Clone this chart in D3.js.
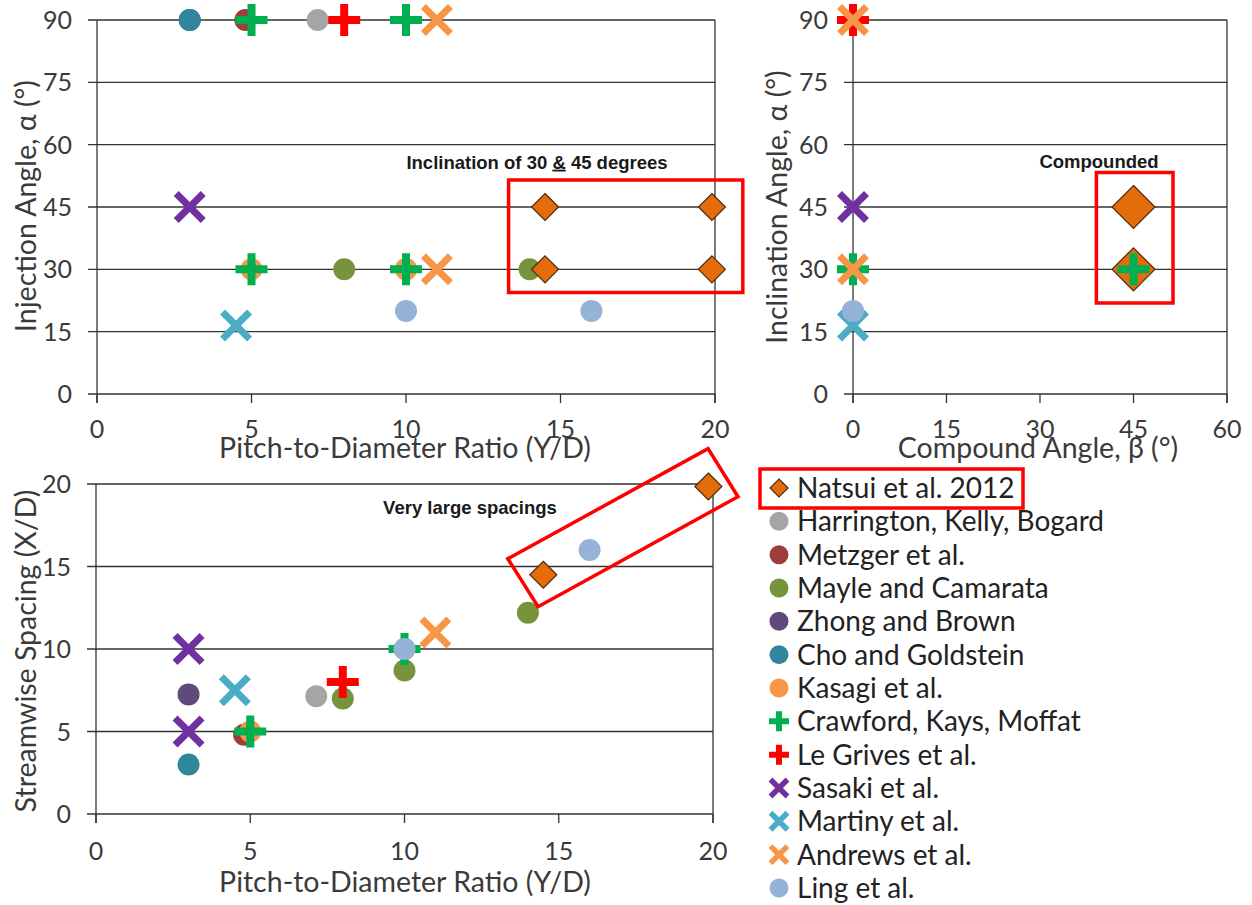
<!DOCTYPE html>
<html>
<head>
<meta charset="utf-8">
<script src="https://cdn.jsdelivr.net/npm/d3@7"></script>
<style>
  body { margin: 0; background: #fff; }
</style>
</head>
<body>
<svg id="chart" width="1252" height="905"></svg>
<script>
//
// Data
//

// series, in legend order
var seriesNames = ['Natsui et al. 2012', 'Harrington, Kelly, Bogard', 'Metzger et al.', 'Mayle and Camarata',
  'Zhong and Brown', 'Cho and Goldstein', 'Kasagi et al.', 'Crawford, Kays, Moffat', 'Le Grives et al.',
  'Sasaki et al.', 'Martiny et al.', 'Andrews et al.', 'Ling et al.']
var seriesColors = ['#E46C0A', '#A5A5A5', '#9C3F3A', '#77933C', '#604A7B', '#31859C', '#F79646',
  '#00B050', '#FF0000', '#7030A0', '#4BACC6', '#F79646', '#95B3D7']
var seriesShapes = ['diamond', 'circle', 'circle', 'circle', 'circle', 'circle', 'circle',
  'plus', 'plus', 'times', 'times', 'times', 'circle']
// order the series are painted in (later on top)
var drawOrder = [1, 2, 3, 0, 4, 5, 6, 7, 8, 9, 10, 11, 12]

// pitch-to-diameter ratio (Y/D) vs injection angle
var pitchAngle = [
  [0, 14.5, 45], [0, 19.9, 45], [0, 14.5, 30], [0, 19.9, 30],
  [1, 7.14, 90],
  [2, 4.8, 90],
  [3, 8, 30], [3, 10, 30], [3, 14, 30],
  [4, 3, 90],
  [5, 3, 90],
  [6, 5, 30], [6, 10, 30],
  [7, 5, 90], [7, 10, 90], [7, 5, 30], [7, 10, 30],
  [8, 8, 90],
  [9, 3, 45],
  [10, 4.5, 16.5],
  [11, 11, 90], [11, 11, 30],
  [12, 10, 20], [12, 16, 20]
]

// compound angle vs inclination angle
var compoundAngle = [
  [0, 45, 45], [0, 45, 30],
  [7, 0, 30], [7, 45, 30],
  [8, 0, 90],
  [9, 0, 45],
  [10, 0, 16.5],
  [11, 0, 90], [11, 0, 30],
  [12, 0, 20]
]

// pitch-to-diameter ratio (Y/D) vs streamwise spacing (X/D)
var pitchSpacing = [
  [0, 14.5, 14.5], [0, 19.85, 19.85],
  [1, 7.14, 7.14],
  [2, 4.8, 4.8],
  [3, 8, 7], [3, 10, 8.7], [3, 14, 12.2],
  [4, 3, 7.25],
  [5, 3, 3],
  [6, 5, 5], [6, 10, 10],
  [7, 5, 5], [7, 10, 10],
  [8, 8, 8],
  [9, 3, 10], [9, 3, 5],
  [10, 4.5, 7.5],
  [11, 11, 11],
  [12, 10, 10], [12, 16, 16]
]

var ticksPitch = [0, 5, 10, 15, 20]
var ticksAngle = [0, 15, 30, 45, 60, 75, 90]
var ticksCompound = [0, 15, 30, 45, 60]
var ticksSpacing = [0, 5, 10, 15, 20]

//
// Drawing helpers
//

var svg = d3.select('#chart')
var gridColor = '#333'
var textColor = '#3a3a3a'
var mainFont = 'Lato, "Open Sans", sans-serif'

function markerPath(shape, s) {
  var p = d3.path()
  if (shape === 'diamond') {
    p.moveTo(0, -s); p.lineTo(s, 0); p.lineTo(0, s); p.lineTo(-s, 0); p.closePath()
  } else if (shape === 'plus') {
    p.moveTo(-s, 0); p.lineTo(s, 0); p.moveTo(0, -s); p.lineTo(0, s)
  } else if (shape === 'times') {
    p.moveTo(-s, -s); p.lineTo(s, s); p.moveTo(-s, s); p.lineTo(s, -s)
  }
  return p.toString()
}

// sizes: r for circle, half-diagonal for diamond, half-arm for plus/times
function drawMarker(g, i, x, y, sz) {
  var shape = seriesShapes[i], color = seriesColors[i]
  if (shape === 'circle') {
    g.append('circle').attr('cx', x).attr('cy', y).attr('r', sz.circle).attr('fill', color)
  } else if (shape === 'diamond') {
    g.append('path').attr('transform', 'translate(' + x + ',' + y + ')')
      .attr('d', markerPath('diamond', sz.diamond))
      .attr('fill', color).attr('stroke', '#4a2c10').attr('stroke-width', 1.2)
  } else if (shape === 'plus') {
    g.append('path').attr('transform', 'translate(' + x + ',' + y + ')')
      .attr('d', markerPath('plus', sz.plus))
      .attr('fill', 'none').attr('stroke', color).attr('stroke-width', sz.plusW)
  } else {
    g.append('path').attr('transform', 'translate(' + x + ',' + y + ')')
      .attr('d', markerPath('times', sz.times))
      .attr('fill', 'none').attr('stroke', color).attr('stroke-width', sz.timesW)
  }
}

function drawPanel(cfg) {
  var x = d3.scaleLinear().domain(cfg.xDomain).range(cfg.xRange)
  var y = d3.scaleLinear().domain(cfg.yDomain).range(cfg.yRange)
  var g = svg.append('g').style('font-family', mainFont)
  var x0 = cfg.xRange[0], x1 = cfg.xRange[1], y0 = cfg.yRange[0], y1 = cfg.yRange[1]

  // horizontal gridlines (extend out as tick marks)
  g.selectAll('.grid').data(cfg.yTicks).enter().append('line')
    .attr('x1', x0 - 9).attr('x2', x1)
    .attr('y1', function (d) { return y(d) }).attr('y2', function (d) { return y(d) })
    .attr('stroke', gridColor).attr('stroke-width', 1.3)
  // x tick marks
  g.selectAll('.xtick').data(cfg.xTicks).enter().append('line')
    .attr('x1', function (d) { return x(d) }).attr('x2', function (d) { return x(d) })
    .attr('y1', y0).attr('y2', y0 + 9)
    .attr('stroke', gridColor).attr('stroke-width', 1.3)
  // left axis and right border
  g.append('line').attr('x1', x0).attr('x2', x0).attr('y1', y1).attr('y2', y0 + 9)
    .attr('stroke', gridColor).attr('stroke-width', 1.3)
  g.append('line').attr('x1', x1).attr('x2', x1).attr('y1', y1).attr('y2', y0 + 9)
    .attr('stroke', gridColor).attr('stroke-width', 1.3)

  // tick labels
  g.selectAll('.ylab').data(cfg.yTicks).enter().append('text')
    .attr('x', x0 - 25).attr('y', function (d) { return y(d) })
    .attr('dy', '0.36em').attr('text-anchor', 'end')
    .attr('font-size', 25).attr('fill', textColor)
    .text(function (d) { return d })
  g.selectAll('.xlab').data(cfg.xTicks).enter().append('text')
    .attr('x', function (d) { return x(d) }).attr('y', y0 + cfg.xLabelOffset)
    .attr('dy', '0.36em').attr('text-anchor', 'middle')
    .attr('font-size', 25).attr('fill', textColor)
    .text(function (d) { return d })

  // axis titles
  g.append('text').attr('x', cfg.xTitlePos[0]).attr('y', cfg.xTitlePos[1])
    .attr('dy', '0.36em').attr('text-anchor', 'middle')
    .attr('font-size', 28.5).attr('fill', textColor).text(cfg.xTitle)
  g.append('text')
    .attr('transform', 'translate(' + cfg.yTitlePos[0] + ',' + cfg.yTitlePos[1] + ') rotate(-90)')
    .attr('dy', '0.36em').attr('text-anchor', 'middle')
    .attr('font-size', 28.5).attr('fill', textColor).text(cfg.yTitle)

  // markers, painted in series order
  drawOrder.forEach(function (si) {
    cfg.data.filter(function (d) { return d[0] === si }).forEach(function (d) {
      drawMarker(g, si, x(d[1]), y(d[2]), cfg.sizes)
    })
  })

  // annotation
  var lab = g.append('text').attr('x', cfg.note.x).attr('y', cfg.note.y)
    .attr('dy', '0.36em').attr('text-anchor', 'middle')
    .style('font-family', '"Liberation Sans", Arial, sans-serif')
    .attr('font-weight', 'bold').attr('font-size', 18.5).attr('fill', '#1a1a1a')
  cfg.note.parts.forEach(function (p) {
    var t = lab.append('tspan').text(p[0])
    if (p[1]) t.attr('text-decoration', 'underline')
  })
  // red highlight box (corners in data units)
  g.append('polygon')
    .attr('points', cfg.box.map(function (c) { return x(c[0]) + ',' + y(c[1]) }).join(' '))
    .attr('fill', 'none').attr('stroke', '#FF0000').attr('stroke-width', 3.5)
}

var smallSizes = { circle: 11, diamond: 13.5, plus: 16, plusW: 8, times: 13.5, timesW: 7 }
var bigSizes = { circle: 11, diamond: 21.5, plus: 16, plusW: 8, times: 13.5, timesW: 7 }

drawPanel({
  xDomain: [0, 20], xRange: [97, 715], yDomain: [0, 90], yRange: [394, 20],
  xTicks: ticksPitch, yTicks: ticksAngle, xLabelOffset: 35,
  xTitle: 'Pitch-to-Diameter Ratio (Y/D)', xTitlePos: [405, 448],
  yTitle: 'Injection Angle, α (°)', yTitlePos: [26, 206],
  data: pitchAngle, sizes: smallSizes,
  note: { x: 537, y: 162, parts: [['Inclination of 30 '], ['&', true], [' 45 degrees']] },
  box: [[13.32, 51.5], [20.9, 51.5], [20.9, 24.4], [13.32, 24.4]]
})

drawPanel({
  xDomain: [0, 60], xRange: [853, 1227], yDomain: [0, 90], yRange: [394, 20],
  xTicks: ticksCompound, yTicks: ticksAngle, xLabelOffset: 35,
  xTitle: 'Compound Angle, β (°)', xTitlePos: [1038, 448],
  yTitle: 'Inclination Angle, α (°)', yTitlePos: [777, 207],
  data: compoundAngle, sizes: bigSizes,
  note: { x: 1099, y: 161, parts: [['Compounded']] },
  box: [[39.05, 53.3], [51.34, 53.3], [51.34, 21.9], [39.05, 21.9]]
})

drawPanel({
  xDomain: [0, 20], xRange: [96, 713], yDomain: [0, 20], yRange: [814, 484],
  xTicks: ticksPitch, yTicks: ticksSpacing, xLabelOffset: 37,
  xTitle: 'Pitch-to-Diameter Ratio (Y/D)', xTitlePos: [405, 882],
  yTitle: 'Streamwise Spacing (X/D)', yTitlePos: [26, 651],
  data: pitchSpacing, sizes: smallSizes,
  note: { x: 470, y: 507, parts: [['Very large spacings']] },
  box: [[13.35, 15.47], [14.33, 12.56], [20.81, 19.23], [19.84, 22.14]]
})

//
// Legend
//

var legend = svg.append('g').style('font-family', mainFont)
var legendSizes = { circle: 9.5, diamond: 9, plus: 10, plusW: 6, times: 8.5, timesW: 5.5 }
seriesNames.forEach(function (name, i) {
  var cy = 488 + i * 33.33
  drawMarker(legend, i, 779, cy, legendSizes)
  legend.append('text').attr('x', 797).attr('y', cy).attr('dy', '0.36em')
    .attr('font-size', 28).attr('fill', '#222').text(name)
})
legend.append('rect').attr('x', 760).attr('y', 469).attr('width', 263).attr('height', 39)
  .attr('fill', 'none').attr('stroke', '#FF0000').attr('stroke-width', 3.5)
</script>
</body>
</html>
